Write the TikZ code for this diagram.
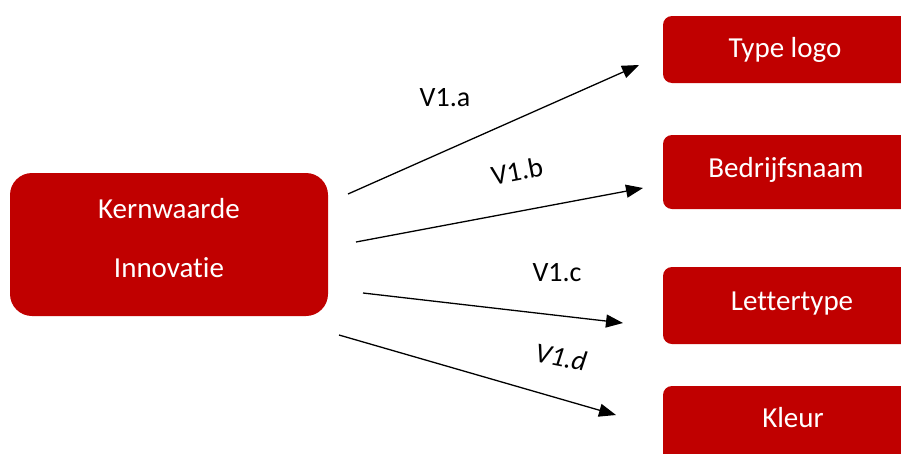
\documentclass[tikz,border=0pt]{standalone}
\usepackage{fontspec}
\setmainfont[Ligatures=NoCommon]{Carlito}
\usetikzlibrary{arrows.meta}
\definecolor{boxred}{RGB}{192,0,0}
\tikzset{
  redbox/.style={fill=boxred, draw=none, rounded corners=9pt, inner sep=0pt},
  bigbox/.style={fill=boxred, draw=none, rounded corners=22pt, inner sep=0pt},
  boxtext/.style={text=white, inner sep=0pt, anchor=base, font=\fontsize{29}{34}\selectfont},
  lbl/.style={text=black, inner sep=0pt, font=\fontsize{28}{34}\selectfont},
  conn/.style={draw=black, line width=1.3pt, -{Triangle[length=17pt,width=13pt]}}
}
\begin{document}
\begin{tikzpicture}[x=1pt,y=-1pt]
\useasboundingbox (0,0) rectangle (901,453);
\clip (0,0) rectangle (901,453);
% boxes
\node[bigbox, minimum width=318pt, minimum height=143pt] (kern) at (169,244.5) {};
\node[redbox, minimum width=257pt, minimum height=67pt] (tl) at (791.5,49.5) {};
\node[redbox, minimum width=257pt, minimum height=74pt] (bn) at (791.5,172) {};
\node[redbox, minimum width=257pt, minimum height=77pt] (lt) at (791.5,305.5) {};
\node[redbox, minimum width=257pt, minimum height=80pt] (kl) at (791.5,426) {};
% texts
\node[boxtext] (kt1) at (169,218) {Kernwaarde};
\node[boxtext] (kt2) at (169,277) {Innovatie};
\node[boxtext] (tlt) at (785,57) {Type logo};
\node[boxtext] (bnt) at (786,177) {Bedrijfsnaam};
\node[boxtext] (ltt) at (792,310) {Lettertype};
\node[boxtext] (klt) at (793,427) {Kleur};
% connector endpoints
\coordinate (a0) at (348,194);
\coordinate (a1) at (639,65);
\coordinate (b0) at (356,242);
\coordinate (b1) at (643,188);
\coordinate (c0) at (363,293);
\coordinate (c1) at (623,323);
\coordinate (d0) at (339,335);
\coordinate (d1) at (616,415);
\draw[conn] (a0) -- (a1);
\draw[conn] (b0) -- (b1);
\draw[conn] (c0) -- (c1);
\draw[conn] (d0) -- (d1);
% labels
\node[lbl] (la) at (445,98) {V1.a};
\node[lbl, rotate=11] (lb) at (517,171) {V1.b};
\node[lbl] (lc) at (557,273) {V1.c};
\node[lbl, rotate=-11] (ld) at (561,357) {\itshape V1.d};
\end{tikzpicture}
\end{document}
